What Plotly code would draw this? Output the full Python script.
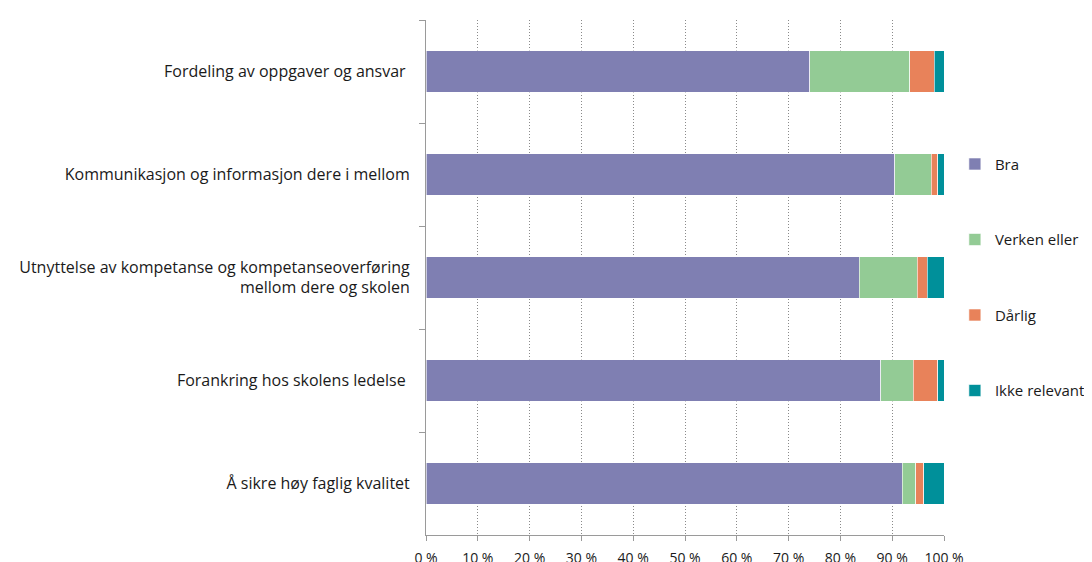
import plotly.graph_objects as go

categories = [
    "Fordeling av oppgaver og ansvar ",
    "Kommunikasjon og informasjon dere i mellom",
    "Utnyttelse av kompetanse og kompetanseoverføring<br>mellom dere og skolen",
    "Forankring hos skolens ledelse ",
    "Å sikre høy faglig kvalitet",
]
series_names = ["Bra", "Verken eller", "Dårlig", "Ikke relevant"]
bra = [74.1, 90.5, 83.6, 87.8, 91.9]
verken = [19.3, 7.0, 11.2, 6.3, 2.6]
darlig = [4.7, 1.3, 2.0, 4.7, 1.6]
ikke = [1.9, 1.2, 3.2, 1.2, 3.9]
x_ticks = [0, 10, 20, 30, 40, 50, 60, 70, 80, 90, 100]
x_tick_labels = ["0 %", "10 %", "20 %", "30 %", "40 %", "50 %", "60 %", "70 %", "80 %", "90 %", "100 %"]

colors = ["#7F7FB2", "#93CB95", "#E8825A", "#00909A"]
values = [bra, verken, darlig, ikke]

fig = go.Figure()
for i, (name, vals, col) in enumerate(zip(series_names, values, colors)):
    fig.add_trace(go.Bar(
        y=categories, x=vals, name=name, orientation="h",
        marker=dict(color=col, line=dict(color="rgba(255,255,255,0.6)", width=1)),
        legendgroup=f"g{i}",
    ))

font_family = "'Open Sans', sans-serif"
fig.update_layout(
    barmode="stack",
    bargap=0.6,
    width=1084, height=554,
    margin=dict(l=418, r=148, t=12, b=27, autoexpand=False),
    plot_bgcolor="white", paper_bgcolor="white",
    font=dict(family=font_family, size=16, color="#1a1a1a"),
    legend=dict(
        x=1.021, y=0.752, xanchor="left", yanchor="top",
        tracegroupgap=53, font=dict(size=15, color="#1a1a1a"),
        itemwidth=30,
    ),
    xaxis=dict(
        range=[0, 100], tickvals=x_ticks, ticktext=x_tick_labels,
        showgrid=True, gridcolor="#8a8a8a", griddash="1px,2px", gridwidth=1,
        showline=True, linecolor="#9a9a9a", linewidth=1,
        ticks="outside", ticklen=5, tickcolor="#9a9a9a",
        ticklabelstandoff=5,
        tickfont=dict(size=14, color="#1a1a1a"),
        zeroline=False, fixedrange=True,
    ),
    yaxis=dict(
        autorange="reversed",
        showline=True, linecolor="#9a9a9a", linewidth=1,
        ticks="outside", ticklen=6, tickcolor="#9a9a9a",
        tickson="boundaries", ticklabelstandoff=12,
        tickfont=dict(size=16, color="#1a1a1a"),
    ),
)

fig.write_html("out.html")
